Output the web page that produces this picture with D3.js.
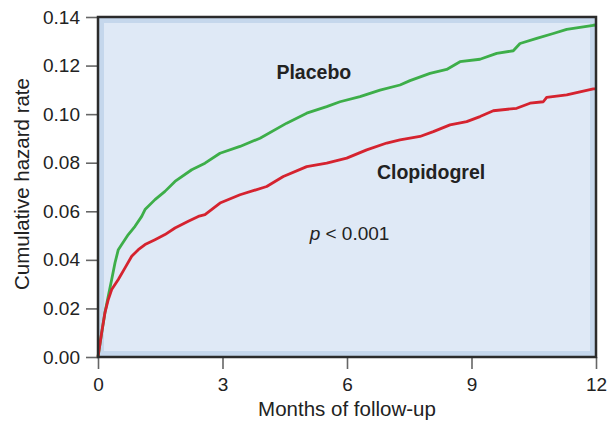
<!DOCTYPE html>
<html>
<head>
<meta charset="utf-8">
<script src="https://cdn.jsdelivr.net/npm/d3@7"></script>
<style>
  html, body { margin: 0; padding: 0; background: #fff; }
  svg { display: block; font-family: "Liberation Sans", Arial, Helvetica, sans-serif; }
</style>
</head>
<body>
<svg id="chart" width="607" height="421"></svg>
<script>
// Data (months, cumulative hazard rate)
const placeboMonths = [0, 0.089, 0.169, 0.248, 0.330, 0.410, 0.489, 0.571, 0.730, 0.892, 1.053, 1.133, 1.373, 1.614, 1.855, 2.258, 2.578, 2.940, 3.422, 3.904, 4.547, 5.029, 5.511, 5.831, 6.313, 6.795, 7.277, 7.518, 8.000, 8.402, 8.723, 9.205, 9.607, 10.007, 10.169, 10.571, 10.971, 11.294, 11.614, 11.935, 12];
const placeboRate = [0, 0.0100, 0.0184, 0.0251, 0.0319, 0.0388, 0.0442, 0.0463, 0.0504, 0.0538, 0.0579, 0.0607, 0.0648, 0.0682, 0.0723, 0.0771, 0.0798, 0.0839, 0.0867, 0.0901, 0.0963, 0.1004, 0.1031, 0.1051, 0.1072, 0.1099, 0.1120, 0.1138, 0.1168, 0.1184, 0.1216, 0.1226, 0.1250, 0.1261, 0.1291, 0.1312, 0.1332, 0.1349, 0.1357, 0.1366, 0.1367];

const clopidogrelMonths = [0, 0.089, 0.169, 0.248, 0.330, 0.489, 0.651, 0.812, 0.971, 1.133, 1.373, 1.614, 1.855, 2.176, 2.417, 2.578, 2.940, 3.422, 4.065, 4.465, 5.029, 5.511, 5.993, 6.475, 6.957, 7.277, 7.759, 8.080, 8.482, 8.884, 9.205, 9.525, 10.089, 10.410, 10.730, 10.811, 11.294, 11.614, 11.935, 12];
const clopidogrelRate = [0, 0.0101, 0.0184, 0.0237, 0.0278, 0.0319, 0.0367, 0.0415, 0.0442, 0.0463, 0.0483, 0.0504, 0.0531, 0.0559, 0.0579, 0.0586, 0.0634, 0.0668, 0.0702, 0.0743, 0.0784, 0.0798, 0.0819, 0.0853, 0.0881, 0.0894, 0.0908, 0.0928, 0.0956, 0.0969, 0.0990, 0.1014, 0.1024, 0.1045, 0.1051, 0.1069, 0.1079, 0.1092, 0.1104, 0.1104];

const xTicks = [0, 3, 6, 9, 12];
const yTicks = [0, 0.02, 0.04, 0.06, 0.08, 0.10, 0.12, 0.14];

const seriesNames = ["Placebo", "Clopidogrel"];
const seriesColors = ["#3dae49", "#d5232f"];

const svg = d3.select("#chart");
const margin = { left: 98, right: 11, top: 17, bottom: 64 };
const W = 607, H = 421;
const x = d3.scaleLinear().domain([0, 12]).range([margin.left, W - margin.right]);
const y = d3.scaleLinear().domain([0, 0.14]).range([H - margin.bottom, margin.top]);

const x0 = x(0), x1 = x(12), y0 = y(0), y1 = y(0.14);

// background band + inner panel
svg.append("rect").attr("x", x0).attr("y", y1).attr("width", x1 - x0).attr("height", y0 - y1).attr("fill", "#c5d7ec");
svg.append("rect").attr("x", x0 + 6).attr("y", y1 + 6).attr("width", x1 - x0 - 12).attr("height", y0 - y1 - 12).attr("fill", "#dfe9f6");

// axes
const yAxis = d3.axisLeft(y).tickValues(yTicks).tickFormat(d3.format(".2f")).tickSize(12).tickPadding(6);
const xAxis = d3.axisBottom(x).tickValues(xTicks).tickFormat(d3.format("d")).tickSize(12).tickPadding(6);

const gy = svg.append("g").attr("transform", `translate(${x0},0)`).call(yAxis);
const gx = svg.append("g").attr("transform", `translate(0,${y0})`).call(xAxis);
[gy, gx].forEach(g => {
  g.select(".domain").remove();
  g.selectAll(".tick line").attr("stroke", "#666").attr("stroke-width", 1.6);
  g.selectAll(".tick text").attr("fill", "#222").style("font-size", "19px");
});
gx.selectAll(".tick text").attr("dy", "0.85em");

// lines
const line = d3.line().x(d => x(d[0])).y(d => y(d[1]));
const placeboData = placeboMonths.map((m, i) => [m, placeboRate[i]]);
const clopData = clopidogrelMonths.map((m, i) => [m, clopidogrelRate[i]]);

svg.append("path").datum(placeboData).attr("d", line).attr("fill", "none")
  .attr("stroke", seriesColors[0]).attr("stroke-width", 2.8).attr("stroke-linejoin", "round");
svg.append("path").datum(clopData).attr("d", line).attr("fill", "none")
  .attr("stroke", seriesColors[1]).attr("stroke-width", 2.8).attr("stroke-linejoin", "round");

// frame
svg.append("rect").attr("x", x0).attr("y", y1).attr("width", x1 - x0).attr("height", y0 - y1)
  .attr("fill", "none").attr("stroke", "#2b2b2b").attr("stroke-width", 2.5);

// series labels
svg.append("text").attr("x", x(4.3)).attr("y", y(0.1145)).text(seriesNames[0])
  .attr("font-weight", "bold").style("font-size", "19.5px").attr("fill", "#222");
svg.append("text").attr("x", x(6.72)).attr("y", y(0.0735)).text(seriesNames[1])
  .attr("font-weight", "bold").style("font-size", "19.5px").attr("fill", "#222");

// p-value
const pt = svg.append("text").attr("x", x(5.1)).attr("y", y(0.0483)).style("font-size", "19px").attr("fill", "#222");
pt.append("tspan").attr("font-style", "italic").text("p");
pt.append("tspan").text(" < 0.001");

// axis titles
svg.append("text").attr("x", x(6)).attr("y", 416).attr("text-anchor", "middle")
  .style("font-size", "20.5px").attr("fill", "#222").text("Months of follow-up");
svg.append("text").attr("transform", `translate(29,${(y0 + y1) / 2 - 3}) rotate(-90)`).attr("text-anchor", "middle")
  .style("font-size", "20.5px").attr("fill", "#222").text("Cumulative hazard rate");
</script>
</body>
</html>
